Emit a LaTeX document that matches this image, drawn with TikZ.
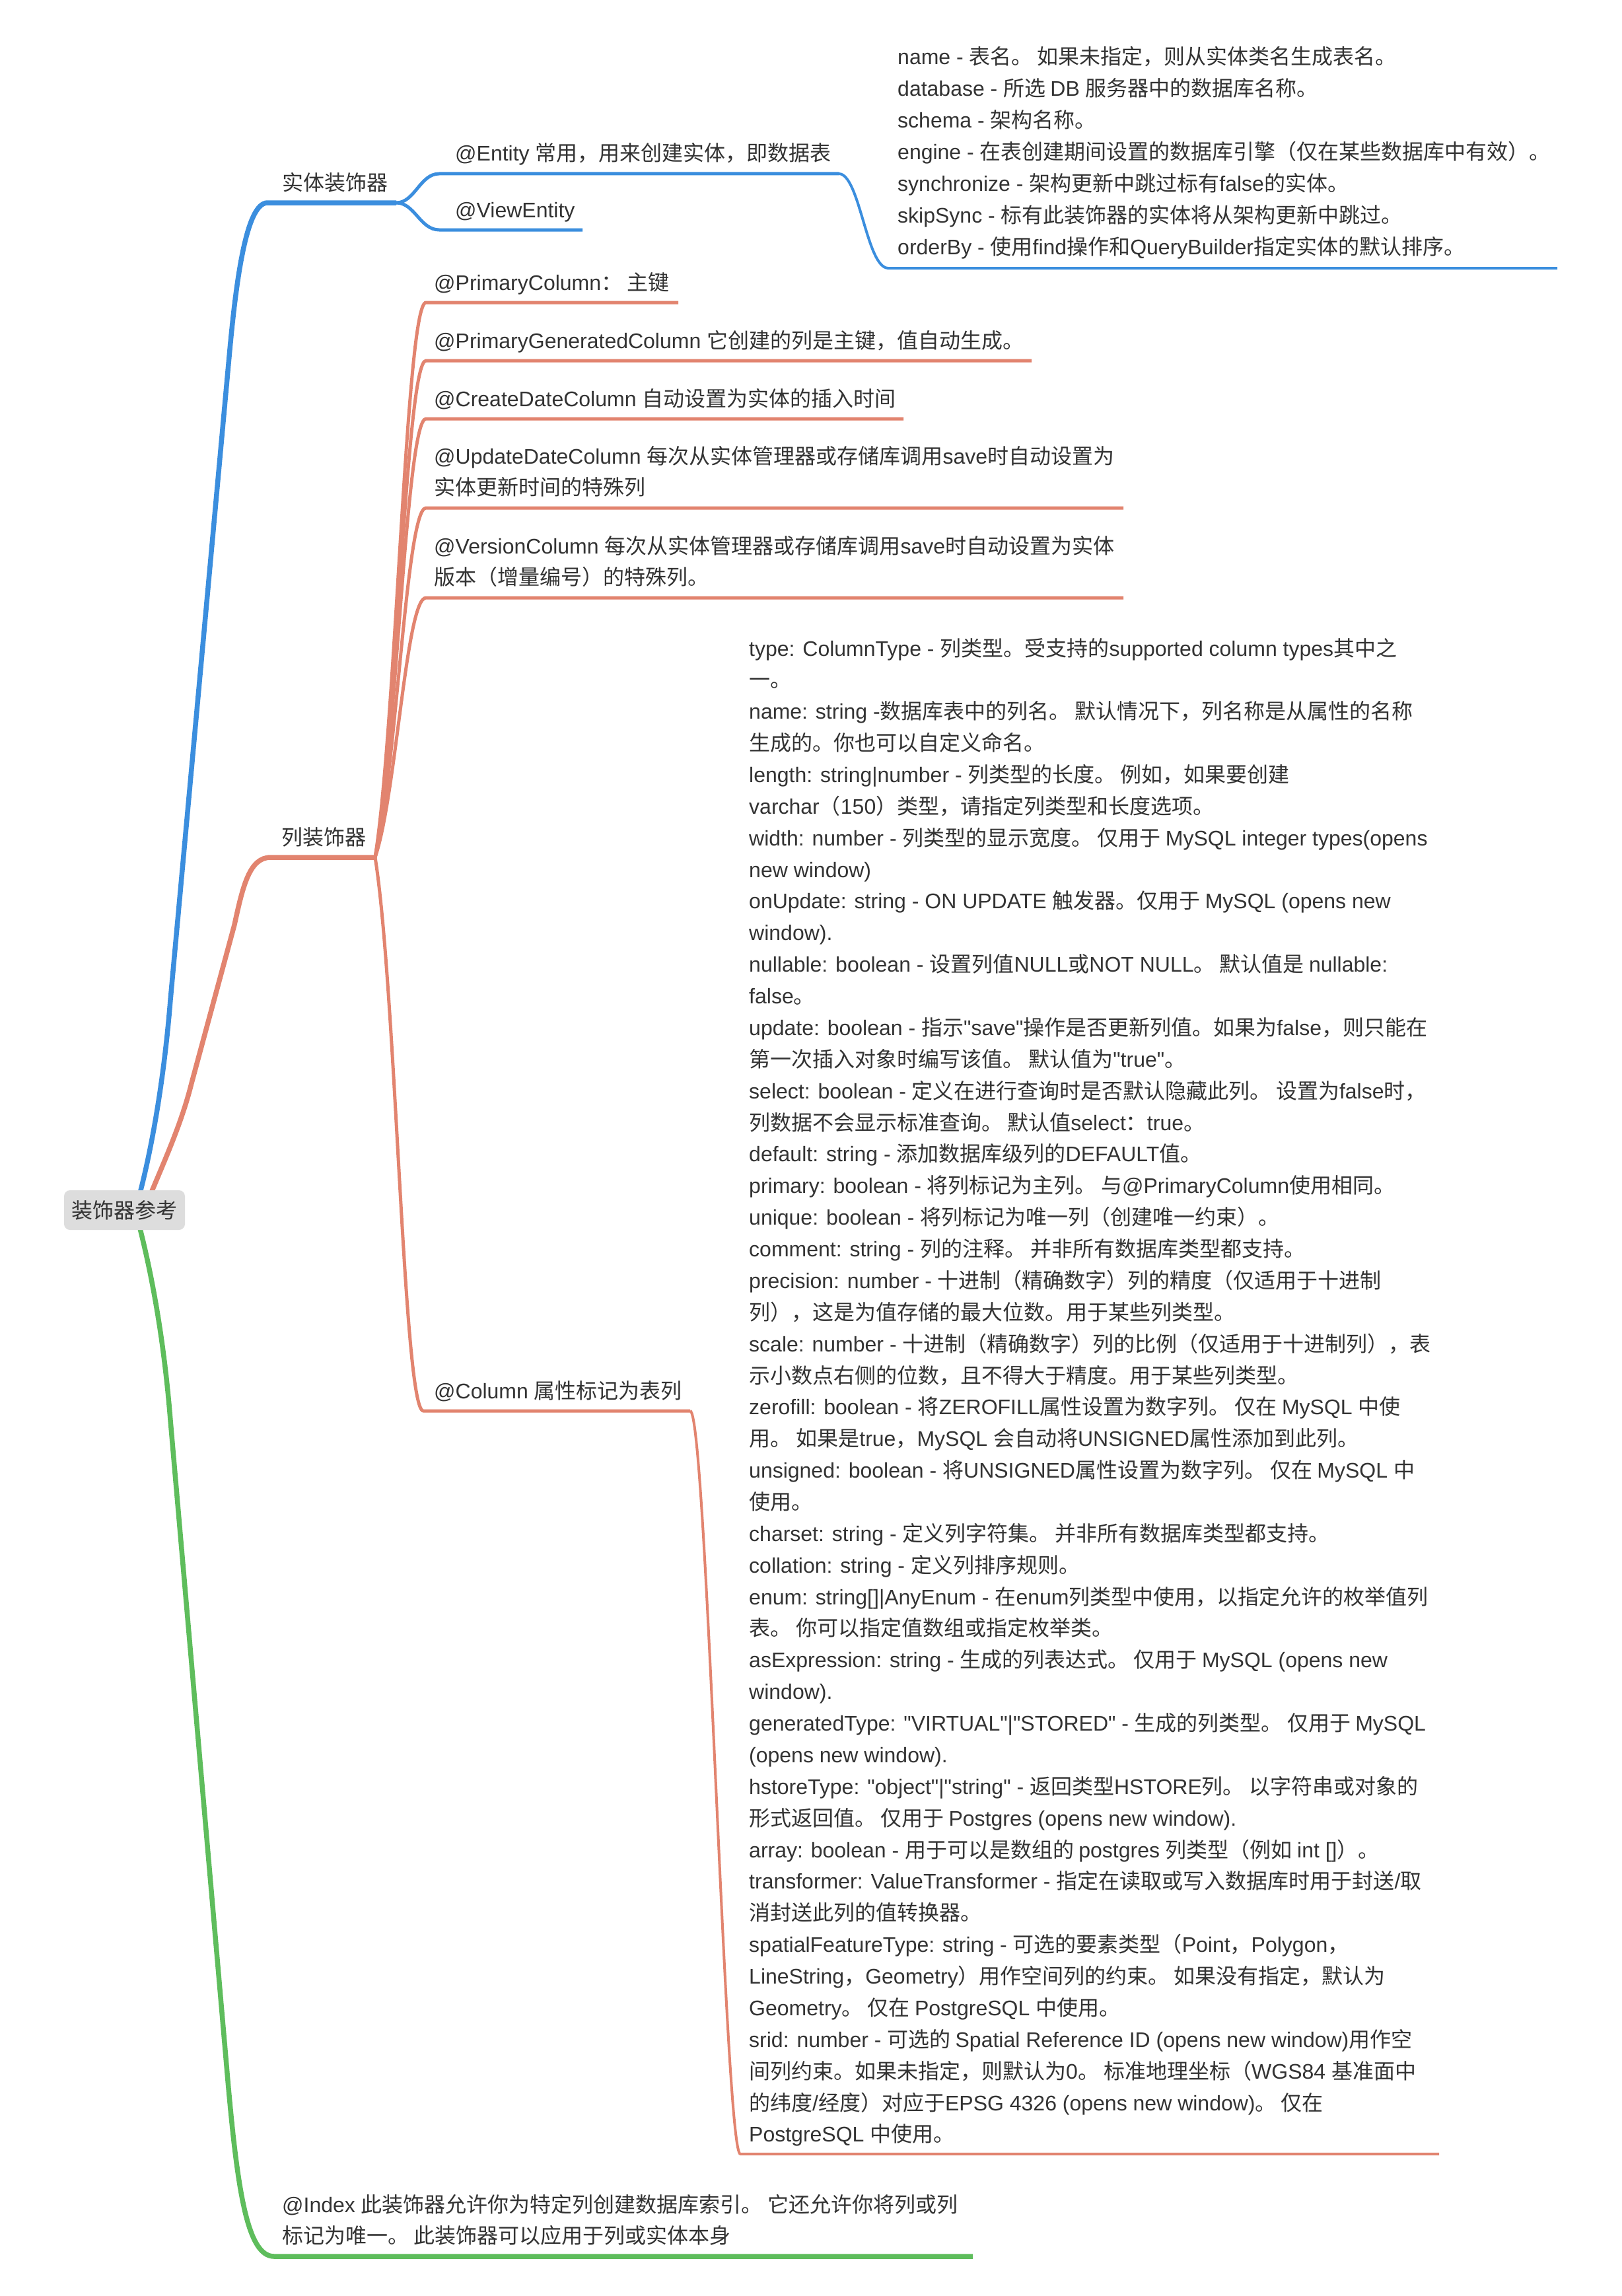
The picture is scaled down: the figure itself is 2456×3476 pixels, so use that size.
\documentclass[tikz,border=0pt]{standalone}
\usepackage{fontspec}
\setmainfont{Liberation Sans}
\newfontfamily\latfont{Liberation Sans}
\newfontfamily\cjkfont{Noto Sans CJK SC}
\usetikzlibrary{backgrounds,calc}

% Ideographs and full-width punctuation are set in the CJK face,
% everything else in Liberation Sans.
\newXeTeXintercharclass\cjkclass
\newcount\clsidx
\newcommand\setcjkrange[2]{%
  \clsidx=#1\relax
  \loop
    \XeTeXcharclass\clsidx=\cjkclass
    \ifnum\clsidx<#2\relax
    \advance\clsidx by 1\relax
  \repeat}
\setcjkrange{"3000}{"303F}
\setcjkrange{"4E00}{"9FFF}
\setcjkrange{"FF00}{"FFEF}
\XeTeXinterchartoks 0 \cjkclass = {\cjkfont}
\XeTeXinterchartoks 4095 \cjkclass = {\cjkfont}
\XeTeXinterchartoks \cjkclass 0 = {\latfont}
\XeTeXinterchartoks 4095 0 = {\latfont}

\definecolor{bblue}{HTML}{3B8EDE}
\definecolor{bred}{HTML}{E2846F}
\definecolor{bgreen}{HTML}{5EBD5C}
\definecolor{rootfill}{HTML}{DDDDDD}
\definecolor{ink}{HTML}{333333}

% stacked lines, baseline of the block = baseline of the first line
\newcommand\textlines[1]{\begin{tabular}[t]{@{}l@{}}#1\end{tabular}}

\begin{document}
\XeTeXinterchartokenstate=1
\begin{tikzpicture}[
  x=1pt, y=-1pt,
  line cap=round, line join=round,
  lvla/.style={line width=7.5pt},
  lvlb/.style={line width=5pt},
  lvlc/.style={line width=4pt},
  label/.style={anchor=base west, inner sep=0pt, text=ink,
    font=\fontsize{32}{47.87}\selectfont},
  rootbox/.style={fill=rootfill, rounded corners=9pt, minimum width=183pt,
    minimum height=60pt, inner sep=0pt, text=ink,
    font=\fontsize{32}{40}\selectfont}
]
\useasboundingbox (0,0) rectangle (2456,3476);

% ---- topics ----
\node[rootbox] (root) at (188.5,1832) {装饰器参考};

\node[label] (ent) at (427,288) {实体装饰器};
\node[label] (entity) at (689,244) {@Entity 常用，用来创建实体，即数据表};
\node[label] (view) at (689,329) {@ViewEntity};
\node[label] (entopts) at (1359,98) {\textlines{%
name - 表名。 如果未指定，则从实体类名生成表名。\\
database - 所选 DB 服务器中的数据库名称。\\
schema - 架构名称。\\
engine - 在表创建期间设置的数据库引擎（仅在某些数据库中有效）。\\
synchronize - 架构更新中跳过标有false的实体。\\
skipSync - 标有此装饰器的实体将从架构更新中跳过。\\
orderBy - 使用find操作和QueryBuilder指定实体的默认排序。}};

\node[label] (col) at (426,1279) {列装饰器};
\node[label] (pc) at (657,439) {@PrimaryColumn： 主键};
\node[label] (pgc) at (657,527) {@PrimaryGeneratedColumn 它创建的列是主键，值自动生成。};
\node[label] (cdc) at (657,615) {@CreateDateColumn 自动设置为实体的插入时间};
\node[label] (udc) at (657,702) {\textlines{%
@UpdateDateColumn 每次从实体管理器或存储库调用save时自动设置为\\
实体更新时间的特殊列}};
\node[label] (vc) at (657,838) {\textlines{%
@VersionColumn 每次从实体管理器或存储库调用save时自动设置为实体\\
版本（增量编号）的特殊列。}};
\node[label] (column) at (657,2117) {@Column 属性标记为表列};
\node[label] (colopts) at (1134,993) {\textlines{%
type: ColumnType - 列类型。受支持的supported column types其中之\\
一。\\
name: string -数据库表中的列名。 默认情况下，列名称是从属性的名称\\
生成的。你也可以自定义命名。\\
length: string|number - 列类型的长度。 例如，如果要创建\\
varchar（150）类型，请指定列类型和长度选项。\\
width: number - 列类型的显示宽度。 仅用于 MySQL integer types(opens\\
new window)\\
onUpdate: string - ON UPDATE 触发器。仅用于 MySQL (opens new\\
window).\\
nullable: boolean - 设置列值NULL或NOT NULL。 默认值是 nullable:\\
false。\\
update: boolean - 指示"save"操作是否更新列值。如果为false，则只能在\\
第一次插入对象时编写该值。 默认值为"true"。\\
select: boolean - 定义在进行查询时是否默认隐藏此列。 设置为false时，\\
列数据不会显示标准查询。 默认值select：true。\\
default: string - 添加数据库级列的DEFAULT值。\\
primary: boolean - 将列标记为主列。 与@PrimaryColumn使用相同。\\
unique: boolean - 将列标记为唯一列（创建唯一约束）。\\
comment: string - 列的注释。 并非所有数据库类型都支持。\\
precision: number - 十进制（精确数字）列的精度（仅适用于十进制\\
列），这是为值存储的最大位数。用于某些列类型。\\
scale: number - 十进制（精确数字）列的比例（仅适用于十进制列），表\\
示小数点右侧的位数，且不得大于精度。用于某些列类型。\\
zerofill: boolean - 将ZEROFILL属性设置为数字列。 仅在 MySQL 中使\\
用。 如果是true，MySQL 会自动将UNSIGNED属性添加到此列。\\
unsigned: boolean - 将UNSIGNED属性设置为数字列。 仅在 MySQL 中\\
使用。\\
charset: string - 定义列字符集。 并非所有数据库类型都支持。\\
collation: string - 定义列排序规则。\\
enum: string[]|AnyEnum - 在enum列类型中使用，以指定允许的枚举值列\\
表。 你可以指定值数组或指定枚举类。\\
asExpression: string - 生成的列表达式。 仅用于 MySQL (opens new\\
window).\\
generatedType: "VIRTUAL"|"STORED" - 生成的列类型。 仅用于 MySQL\\
(opens new window).\\
hstoreType: "object"|"string" - 返回类型HSTORE列。 以字符串或对象的\\
形式返回值。 仅用于 Postgres (opens new window).\\
array: boolean - 用于可以是数组的 postgres 列类型（例如 int []）。\\
transformer: ValueTransformer - 指定在读取或写入数据库时用于封送/取\\
消封送此列的值转换器。\\
spatialFeatureType: string - 可选的要素类型（Point，Polygon，\\
LineString，Geometry）用作空间列的约束。 如果没有指定，默认为\\
Geometry。 仅在 PostgreSQL 中使用。\\
srid: number - 可选的 Spatial Reference ID (opens new window)用作空\\
间列约束。如果未指定，则默认为0。 标准地理坐标（WGS84 基准面中\\
的纬度/经度）对应于EPSG 4326 (opens new window)。 仅在\\
PostgreSQL 中使用。}};

\node[label] (index) at (427,3349) {\textlines{%
@Index 此装饰器允许你为特定列创建数据库索引。 它还允许你将列或列\\
标记为唯一。 此装饰器可以应用于列或实体本身}};

% ---- underline end points ----
\coordinate (ent-l) at (405,307);     \coordinate (ent-r) at (600,307);
\coordinate (entity-l) at (665,263);  \coordinate (entity-r) at (1270,263);
\coordinate (view-l) at (665,348);    \coordinate (view-r) at (882,348);
\coordinate (entopts-l) at (1345,406);\coordinate (entopts-r) at (2358,406);
\coordinate (col-l) at (410,1298);    \coordinate (col-r) at (568,1298);
\coordinate (pc-l) at (645,458);      \coordinate (pc-r) at (1027,458);
\coordinate (pgc-l) at (645,546);     \coordinate (pgc-r) at (1562,546);
\coordinate (cdc-l) at (645,634);     \coordinate (cdc-r) at (1368,634);
\coordinate (udc-l) at (645,769);     \coordinate (udc-r) at (1701,769);
\coordinate (vc-l) at (645,905);      \coordinate (vc-r) at (1701,905);
\coordinate (column-l) at (641,2136); \coordinate (column-r) at (1045,2136);
\coordinate (colopts-l) at (1121,3261);\coordinate (colopts-r) at (2179,3261);
\coordinate (index-l) at (415,3416);  \coordinate (index-r) at (1473,3416);

\begin{pgfonlayer}{background}
\fill[white] (0,0) rectangle (2456,3476);

% main branches out of the central topic
\draw[bblue, lvla] (root.center) -- (211,1810)
  .. controls (234,1722) and (250,1614) .. (258,1514) -- (347,540)
  .. controls (357,430) and (372,307) .. (ent-l) -- (ent-r);
\draw[bred, lvla] (root.center) -- (228,1808)
  .. controls (250,1755) and (275,1700) .. (290,1640) -- (355,1400)
  .. controls (368,1340) and (378,1298) .. (col-l) -- (col-r);
\draw[bgreen, lvla] (root.center) -- (211,1856)
  .. controls (235,1950) and (250,2050) .. (258,2150) -- (345,3150)
  .. controls (360,3320) and (375,3416) .. (index-l) -- (index-r);

% entity decorators
\draw[bblue, lvlb] (ent-r) .. controls ($(ent-r)+(28,0)$) and ($(entity-l)+(-29,0)$) .. (entity-l) -- (entity-r);
\draw[bblue, lvlb] (ent-r) .. controls ($(ent-r)+(28,0)$) and ($(view-l)+(-29,0)$) .. (view-l) -- (view-r);
\draw[bblue, lvlc] (entity-r) .. controls ($(entity-r)+(32,0)$) and ($(entopts-l)+(-33,0)$) .. (entopts-l) -- (entopts-r);

% column decorators
\draw[bred, lvlb] (col-r) .. controls ($(col-r)+(32,-202)$) and ($(pc-l)+(-30,0)$) .. (pc-l) -- (pc-r);
\draw[bred, lvlb] (col-r) .. controls ($(col-r)+(32,-180)$) and ($(pgc-l)+(-30,0)$) .. (pgc-l) -- (pgc-r);
\draw[bred, lvlb] (col-r) .. controls ($(col-r)+(32,-159)$) and ($(cdc-l)+(-30,0)$) .. (cdc-l) -- (cdc-r);
\draw[bred, lvlb] (col-r) .. controls ($(col-r)+(32,-127)$) and ($(udc-l)+(-30,0)$) .. (udc-l) -- (udc-r);
\draw[bred, lvlb] (col-r) .. controls ($(col-r)+(32,-94)$) and ($(vc-l)+(-30,0)$) .. (vc-l) -- (vc-r);
\draw[bred, lvlb] (col-r) .. controls ($(col-r)+(32,201)$) and ($(column-l)+(-30,0)$) .. (column-l) -- (column-r);
\draw[bred, lvlc] (column-r) .. controls ($(column-r)+(25,0)$) and ($(colopts-l)+(-23,0)$) .. (colopts-l) -- (colopts-r);
\end{pgfonlayer}
\end{tikzpicture}
\end{document}
